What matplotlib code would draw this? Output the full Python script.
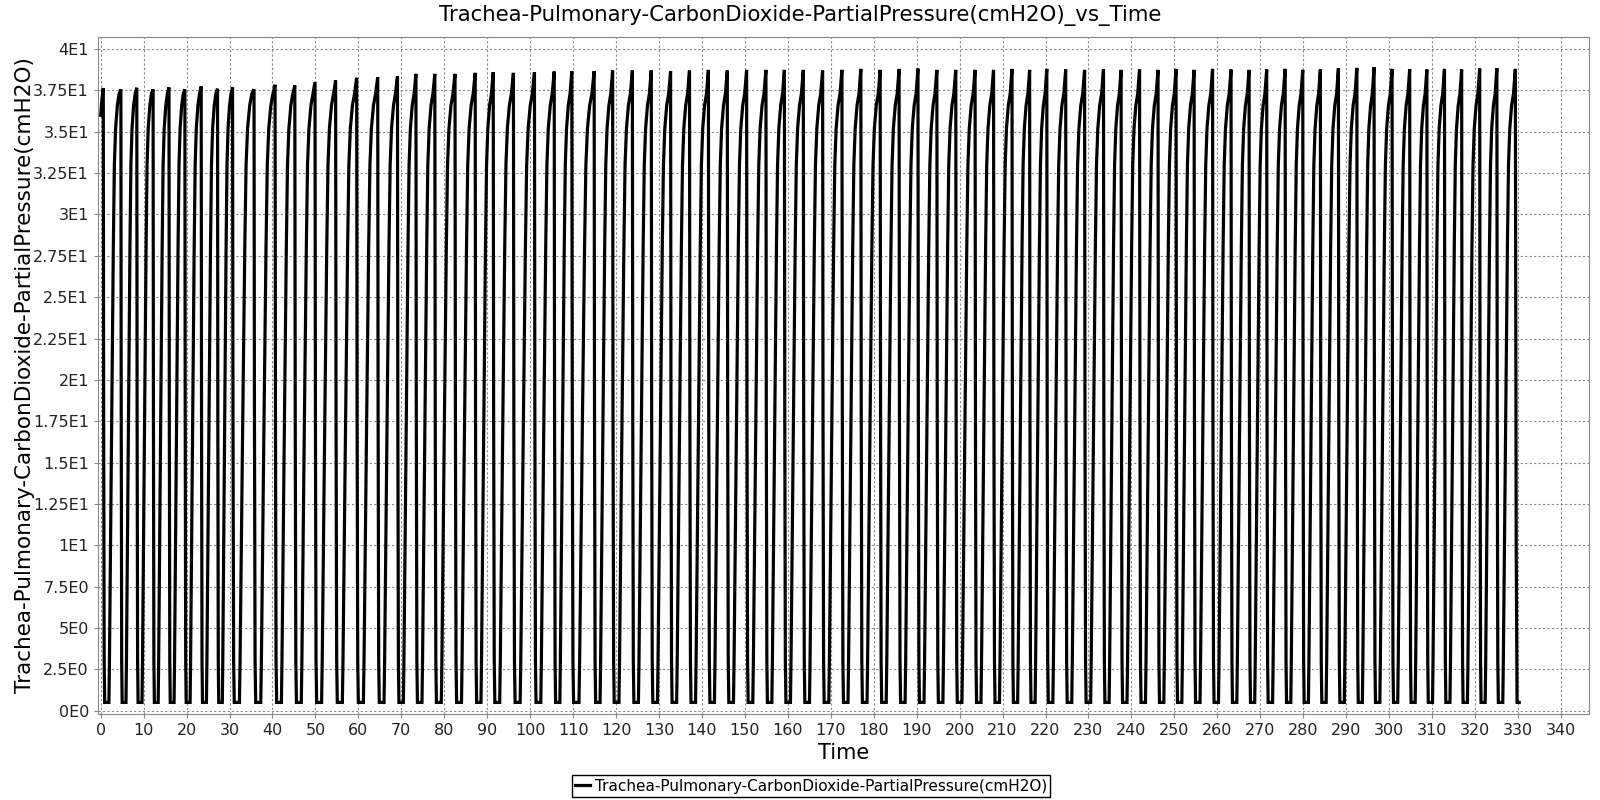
import numpy as np
import matplotlib
matplotlib.use("Agg")
import matplotlib.pyplot as plt
from matplotlib.ticker import FuncFormatter, MultipleLocator

# breath peaks (time of the drop, peak value in cmH2O)
peak_times = [0.6, 4.7, 8.4, 12.2, 15.9, 19.6, 23.4, 27.2, 30.7, 35.7,
              40.6, 45.2, 49.9, 54.7, 59.6, 64.5, 69.1, 73.4, 77.8, 82.5,
              87.2, 91.4, 96.1, 101.0, 105.6, 109.7,
              114.9, 119.2, 123.8, 128.2, 132.7, 137.1, 141.5, 145.9, 150.4, 154.9,
              159.2, 163.6, 168.1, 172.6, 177.0, 181.5, 185.9, 190.3, 194.7, 199.1,
              203.6, 207.9, 212.2, 216.3, 220.3,
              224.7, 229.1, 233.5, 237.6, 241.9, 246.2, 250.4, 254.6, 258.9, 263.2,
              267.4, 271.5, 275.8, 279.9, 284.0, 288.2, 292.5, 296.5, 300.7, 304.8,
              308.8, 312.9, 316.9, 321.1, 325.1, 329.4]
peak_values = [37.64, 37.56, 37.66, 37.56, 37.68, 37.56, 37.74, 37.60, 37.68, 37.56,
               37.84, 37.80, 38.00, 38.10, 38.26, 38.30, 38.36, 38.50, 38.50, 38.50,
               38.56, 38.60, 38.56, 38.60, 38.64, 38.66,
               38.66, 38.70, 38.70, 38.70, 38.66, 38.70, 38.74, 38.70, 38.74, 38.74,
               38.74, 38.74, 38.70, 38.74, 38.80, 38.74, 38.80, 38.82, 38.74, 38.74,
               38.74, 38.74, 38.80, 38.74, 38.80,
               38.76, 38.74, 38.78, 38.74, 38.76, 38.74, 38.80, 38.74, 38.80, 38.76,
               38.74, 38.76, 38.80, 38.74, 38.76, 38.84, 38.86, 38.90, 38.80, 38.78,
               38.76, 38.80, 38.76, 38.82, 38.84, 38.80]

# one breath as read from a single cycle: fraction of the peak-to-peak interval, value
cycle_frac = [0.02, 0.05, 0.08, 0.32, 0.35, 0.47, 0.57, 0.63, 0.70, 0.80, 0.90]
cycle_vals = [18.0, 3.0, 0.5, 0.5, 3.0, 17.0, 28.0, 33.0, 35.2, 36.6, 37.3]

start_t = [0.0, 0.3]
start_v = [36.0, 37.0]
end_t = [329.6, 329.8, 330.3]
end_v = [10.0, 0.5, 0.5]

t = list(start_t)
v = list(start_v)
for i in range(len(peak_times) - 1):
    t0, t1 = peak_times[i], peak_times[i + 1]
    t.append(t0)
    v.append(peak_values[i])
    for f, val in zip(cycle_frac, cycle_vals):
        t.append(t0 + f * (t1 - t0))
        v.append(val)
t.append(peak_times[-1])
v.append(peak_values[-1])
t += end_t
v += end_v


def sci(x, pos):
    if abs(x) < 1e-9:
        return "0E0"
    e = int(np.floor(np.log10(abs(x)) + 1e-9))
    m = x / 10 ** e
    s = f"{m:.2f}".rstrip("0").rstrip(".")
    return f"{s}E{e}"


plt.rcParams["font.family"] = ["DejaVu Sans"]
fig = plt.figure(figsize=(16, 8), dpi=100)
ax = fig.add_axes([0.06125, 0.1075, 0.932, 0.8467])

line, = ax.plot(t, v, color="black", linewidth=2.3, solid_joinstyle="miter")

ax.set_xlim(-0.63, 346.6)
ax.set_ylim(-0.2, 40.75)
ax.xaxis.set_major_locator(MultipleLocator(10))
ax.yaxis.set_major_locator(MultipleLocator(2.5))
ax.yaxis.set_major_formatter(FuncFormatter(sci))
ax.grid(True, color="#888888", linestyle=(0, (2, 2)), linewidth=0.8)
ax.tick_params(axis="both", labelsize=11.5, length=3, color="#888888", labelcolor="#222222")
for s in ax.spines.values():
    s.set_color("#888888")

fig.text(0.5, 1 - 15 / 800, "Trachea-Pulmonary-CarbonDioxide-PartialPressure(cmH2O)_vs_Time",
         ha="center", va="center", fontsize=15.3)
fig.text(0.527, 1 - 753 / 800, "Time", ha="center", va="center", fontsize=15)
fig.text(25 / 1600, 0.531, "Trachea-Pulmonary-CarbonDioxide-PartialPressure(cmH2O)",
         ha="center", va="center", rotation=90, fontsize=15.5)

leg = fig.legend([line], ["Trachea-Pulmonary-CarbonDioxide-PartialPressure(cmH2O)"],
                 loc="center", bbox_to_anchor=(0.507, 0.0175), fontsize=11,
                 fancybox=False, edgecolor="black", framealpha=1,
                 handlelength=1.0, handletextpad=0.3, borderpad=0.2)
leg.get_frame().set_linewidth(1.0)

fig.savefig("out.png", dpi=100)
